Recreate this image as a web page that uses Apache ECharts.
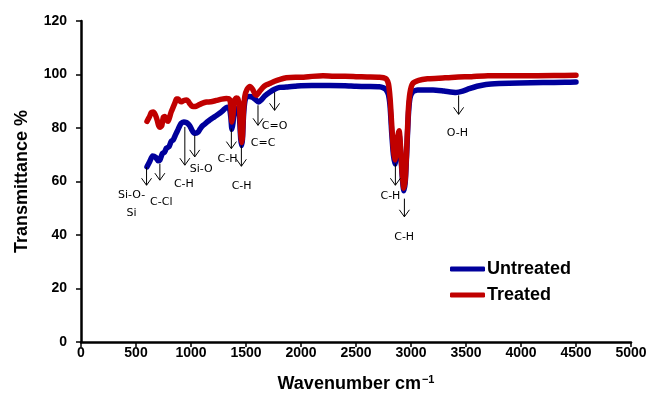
<!DOCTYPE html>
<html>
<head>
<meta charset="utf-8">
<script src="https://cdn.jsdelivr.net/npm/echarts@6/dist/echarts.min.js"></script>
<style>
  html, body { margin: 0; padding: 0; background: #fff; }
  #chart { width: 657px; height: 399px; }
</style>
</head>
<body>
<div id="chart"></div>
<script>
// FTIR spectra: wavenumber (cm-1) vs transmittance (%)
const untreatedWavenumber = [600, 625, 650, 680, 700, 717, 740, 760, 777, 800, 820, 838, 860, 883, 900, 913, 935, 959, 975, 989, 1005, 1019, 1040, 1065, 1085, 1110, 1140, 1170, 1200, 1231, 1260, 1292, 1315, 1337, 1352, 1362, 1372, 1382, 1392, 1410, 1425, 1440, 1452, 1460, 1468, 1478, 1490, 1504, 1530, 1560, 1590, 1615, 1640, 1670, 1715, 1760, 1806, 1866, 1950, 2000, 2100, 2260, 2400, 2500, 2600, 2713, 2750, 2774, 2795, 2810, 2825, 2840, 2855, 2868, 2880, 2892, 2905, 2920, 2935, 2948, 2960, 2975, 2990, 3015, 3060, 3100, 3200, 3300, 3409, 3470, 3530, 3600, 3681, 3800, 3984, 4200, 4400, 4500];
const untreatedTransmittance = [65.5, 67.5, 69.5, 69, 67.8, 68, 70.5, 71, 72.5, 73, 75, 75.5, 77.5, 79.5, 81, 81.8, 82.2, 82, 81.5, 80.8, 79.5, 78.5, 78, 78.5, 79.8, 81, 82, 83, 83.8, 84.7, 85.5, 86.6, 87.5, 87.8, 87, 84, 79.5, 82, 86.5, 87.2, 87, 84, 76, 73.5, 76, 85, 90, 91.5, 91.8, 91.5, 90.5, 89.7, 90.5, 92, 93.4, 94.5, 95.2, 95.3, 95.6, 95.8, 95.9, 95.9, 95.8, 95.6, 95.5, 95.4, 95, 94.3, 92.5, 88, 78, 70, 66.5, 70, 75, 77.5, 72, 62, 56.5, 60, 70, 84, 91, 93.5, 94.2, 94.2, 94.2, 93.8, 93.3, 93.8, 94.7, 95.6, 96.3, 96.6, 96.8, 97, 97.1, 97.2];

const treatedWavenumber = [600, 620, 640, 656, 675, 692, 705, 720, 735, 748, 762, 778, 792, 805, 820, 838, 855, 868, 885, 900, 914, 935, 959, 975, 990, 1005, 1019, 1040, 1065, 1100, 1141, 1180, 1231, 1280, 1322, 1352, 1362, 1372, 1382, 1392, 1410, 1425, 1440, 1452, 1460, 1468, 1478, 1490, 1510, 1534, 1560, 1580, 1594, 1620, 1650, 1680, 1715, 1760, 1810, 1866, 1950, 2000, 2100, 2200, 2300, 2400, 2500, 2600, 2713, 2750, 2774, 2795, 2810, 2825, 2840, 2855, 2868, 2880, 2892, 2905, 2920, 2935, 2948, 2960, 2975, 2990, 3015, 3070, 3150, 3250, 3400, 3550, 3700, 4000, 4300, 4500];
const treatedTransmittance = [82.5, 84, 85.8, 86, 85, 83, 81, 80.3, 81, 84, 84.3, 83, 82.5, 84, 86, 87.8, 89.5, 90.8, 90.8, 90, 89.8, 90.3, 90.5, 90, 89, 88.3, 88, 88, 88.5, 89.2, 89.7, 89.8, 90.3, 90.8, 91, 90.6, 88, 82.2, 85, 90, 91.2, 91, 88, 78, 74.5, 77, 87, 92, 94.5, 95.5, 94.5, 92.8, 92.2, 93.5, 95, 96, 96.6, 97.5, 98.2, 98.8, 99, 99, 99.3, 99.5, 99.3, 99.3, 99.2, 99.1, 99, 98.8, 98.4, 96.5, 91, 81, 72, 68, 71, 77, 79, 73, 63, 57.5, 61, 71, 86, 93, 96.6, 97.8, 98.4, 98.6, 99, 99.2, 99.5, 99.5, 99.6, 99.7];

// Band assignments: arrow position and extent, and label placement
const bandLabels = ['Si-O-\nSi', 'C-Cl', 'C-H', 'Si-O', 'C-H', 'C-H', 'C=C', 'C=O', 'C-H', 'C-H', 'O-H'];
const arrowWavenumber = [596, 717, 944, 1034, 1367, 1458, 1609, 1760, 2858, 2940, 3433];
const arrowTop = [65.4, 66.7, 80.4, 77.3, 79.8, 73.5, 88.5, 93.4, 66.7, 53.6, 92.2];
const arrowBottom = [58.6, 60.5, 66.1, 69.2, 72.3, 65.7, 81, 86.6, 58.6, 46.8, 85.1];
const labelWavenumber = [460, 730, 935, 1093, 1332, 1460, 1655, 1760, 2813, 2938, 3422];
const labelTransmittance = [51.6, 52.1, 59, 64.8, 68.2, 58.2, 74.5, 80.6, 54.6, 39.3, 77.9];

const xTicks = { min: 0, max: 5000, interval: 500 };
const yTicks = { min: 0, max: 120, interval: 20 };

const zip = (xs, ys) => xs.map((x, i) => [x, ys[i]]);
const plain = v => String(v);

const chart = echarts.init(document.getElementById('chart'), null, { renderer: 'canvas' });

const axisFont = { fontFamily: '"Liberation Sans", Arial, sans-serif', fontWeight: 'bold', color: '#000' };

chart.setOption({
  animation: false,
  backgroundColor: '#fff',
  grid: { left: 81, right: 26, top: 21, bottom: 57, containLabel: false },
  legend: {
    data: ['Untreated', 'Treated'],
    orient: 'vertical',
    left: 445,
    top: 255,
    itemWidth: 35,
    itemHeight: 5,
    itemGap: 8,
    icon: 'roundRect',
    textStyle: Object.assign({ fontSize: 18, padding: [0, 0, 0, -3] }, axisFont)
  },
  xAxis: {
    type: 'value',
    min: xTicks.min, max: xTicks.max, interval: xTicks.interval,
    name: 'Wavenumber cm{sup|−1}',
    nameLocation: 'middle',
    nameGap: 32,
    nameTextStyle: Object.assign({
      fontSize: 18,
      lineHeight: 20,
      rich: {
        sup: Object.assign({ fontSize: 11, lineHeight: 20, verticalAlign: 'top', padding: [0, 0, 8, 1] }, axisFont)
      }
    }, axisFont),
    axisLine: { show: true, lineStyle: { color: '#000', width: 2.5 } },
    axisTick: { show: true, inside: false, length: 5, lineStyle: { color: '#000', width: 1.5 } },
    axisLabel: Object.assign({ fontSize: 14, margin: 4, formatter: plain }, axisFont),
    splitLine: { show: false }
  },
  yAxis: {
    type: 'value',
    min: yTicks.min, max: yTicks.max, interval: yTicks.interval,
    name: 'Transmittance %',
    nameLocation: 'middle',
    nameGap: 50,
    nameTextStyle: Object.assign({ fontSize: 18 }, axisFont),
    axisLine: { show: true, lineStyle: { color: '#000', width: 2.5 } },
    axisTick: { show: true, inside: false, length: 5, lineStyle: { color: '#000', width: 1.5 } },
    axisLabel: Object.assign({ fontSize: 14, margin: 14, formatter: plain }, axisFont),
    splitLine: { show: false }
  },
  series: [
    {
      name: 'Untreated',
      type: 'line',
      data: zip(untreatedWavenumber, untreatedTransmittance),
      showSymbol: false,
      smooth: 0.2,
      color: '#00009C',
      lineStyle: { color: '#00009C', width: 5.5, cap: 'round', join: 'round' },
      z: 2
    },
    {
      name: 'Treated',
      type: 'line',
      data: zip(treatedWavenumber, treatedTransmittance),
      showSymbol: false,
      smooth: 0.2,
      color: '#C00000',
      lineStyle: { color: '#C00000', width: 5.5, cap: 'round', join: 'round' },
      z: 3
    },
    {
      name: 'band arrows',
      type: 'custom',
      silent: true,
      z: 5,
      data: arrowWavenumber.map((x, i) => [x, arrowTop[i], arrowBottom[i]]),
      encode: { x: 0, y: [1, 2] },
      renderItem: function (params, api) {
        const top = api.coord([api.value(0), api.value(1)]);
        const bot = api.coord([api.value(0), api.value(2)]);
        return {
          type: 'group',
          children: [
            { type: 'line', shape: { x1: top[0], y1: top[1], x2: bot[0], y2: bot[1] },
              style: { stroke: '#000', lineWidth: 1 } },
            { type: 'polyline', shape: { points: [[bot[0] - 5, bot[1] - 7], [bot[0], bot[1]], [bot[0] + 5, bot[1] - 7]] },
              style: { stroke: '#000', fill: null, lineWidth: 1 } }
          ]
        };
      }
    },
    {
      name: 'band labels',
      type: 'custom',
      silent: true,
      z: 6,
      data: zip(labelWavenumber, labelTransmittance),
      encode: { x: 0, y: 1 },
      renderItem: function (params, api) {
        const p = api.coord([api.value(0), api.value(1)]);
        return {
          type: 'text',
          x: p[0], y: p[1],
          style: {
            text: bandLabels[params.dataIndex],
            align: 'center',
            verticalAlign: 'middle',
            fontFamily: '"DejaVu Sans", sans-serif',
            fontSize: 11,
            lineHeight: 18,
            fill: '#000'
          }
        };
      }
    }
  ]
});
</script>
</body>
</html>
